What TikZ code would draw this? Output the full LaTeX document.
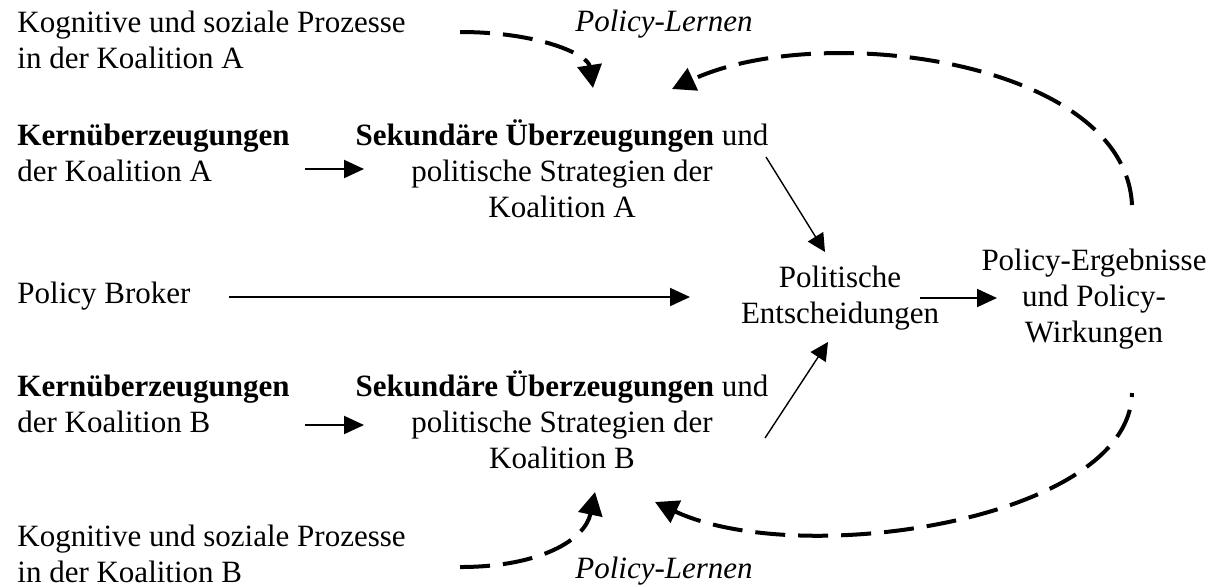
\documentclass[tikz,border=0pt]{standalone}
\usepackage{fontspec}
\setmainfont{Liberation Serif}
\usepackage{tikz}
\usetikzlibrary{calc}
\usetikzlibrary{arrows.meta}
\tikzstyle{every node}=[font=\fontsize{15.5}{18}\selectfont,inner sep=0pt]
\tikzset{
    pfeil/.style={line width=1pt,-{Triangle[length=10pt,width=9pt]}},
    schraeg/.style={line width=0.7pt,-{Triangle[length=9pt,width=9pt]}},
    lernpfeil/.style={line width=2pt,line cap=butt,dash pattern=on 15pt off 6.5pt,-{Triangle[length=11.5pt,width=12pt]}}
}

\begin{document}
\begin{tikzpicture}[line join=round,x=0.5pt,y=-0.5pt]
    \useasboundingbox (0,0) rectangle (1214,586);
    % Koalition A (base = letzte Zeile)
    \draw (17,68) node[anchor=base west,align=left] (kogA) {Kognitive und soziale Prozesse\\in der Koalition A};
    \draw (664,31) node[anchor=base] (lernA) {\textit{Policy-Lernen}};
    \draw (17,181) node[anchor=base west,align=left] (kernA) {\textbf{Kernüberzeugungen}\\der Koalition A};
    \draw (562,217) node[anchor=base,align=center] (sekA) {\textbf{Sekundäre Überzeugungen} und\\politische Strategien der\\Koalition A};
    % Mitte
    \draw (17,303) node[anchor=base west] (broker) {Policy Broker};
    \draw (840,323) node[anchor=base,align=center] (pol) {Politische\\Entscheidungen};
    \draw (1094,342) node[anchor=base,align=center] (erg) {Policy-Ergebnisse\\und Policy-\\Wirkungen};
    % Koalition B
    \draw (17,432) node[anchor=base west,align=left] (kernB) {\textbf{Kernüberzeugungen}\\der Koalition B};
    \draw (562,468) node[anchor=base,align=center] (sekB) {\textbf{Sekundäre Überzeugungen} und\\politische Strategien der\\Koalition B};
    \draw (17,582) node[anchor=base west,align=left] (kogB) {Kognitive und soziale Prozesse\\in der Koalition B};
    \draw (664,578) node[anchor=base] (lernB) {\textit{Policy-Lernen}};

    \coordinate (kernA-aus) at (305,169);
    \coordinate (sekA-ein) at (364,169);
    \coordinate (sekA-aus) at (766,157);
    \coordinate (polA-ein) at (825,252);
    \coordinate (broker-aus) at (229,297);
    \coordinate (pol-ein) at (690,297);
    \coordinate (pol-aus) at (920,298);
    \coordinate (erg-ein) at (997,298);
    \coordinate (kernB-aus) at (305,425);
    \coordinate (sekB-ein) at (364,425);
    \coordinate (sekB-aus) at (765,438);
    \coordinate (polB-ein) at (828,342);
    \coordinate (kogA-aus) at (460,32);
    \coordinate (lernA-ein) at (593,88);
    \coordinate (ergA-aus) at (1132,205);
    \coordinate (lernA-ruck) at (672,89);
    \coordinate (kogB-aus) at (460,567);
    \coordinate (lernB-ein) at (595,492);
    \coordinate (ergB-aus) at (1132,393);
    \coordinate (lernB-ruck) at (655,502);

    \draw [pfeil] (kernA-aus) -- (sekA-ein);
    \draw [pfeil] (kernB-aus) -- (sekB-ein);
    \draw [pfeil] (broker-aus) -- (pol-ein);
    \draw [pfeil] (pol-aus) -- (erg-ein);
    \draw [schraeg] (sekA-aus) -- (polA-ein);
    \draw [schraeg] (sekB-aus) -- (polB-ein);

    \draw [lernpfeil] (kogA-aus) .. controls (540,32) and (588,55) .. (lernA-ein);
    \draw [lernpfeil] (kogB-aus) .. controls (540,567) and (585,540) .. (lernB-ein);
    \draw [lernpfeil] (ergA-aus) .. controls (1125,60) and (820,20) .. (lernA-ruck);
    \draw [lernpfeil,dash phase=13pt] (ergB-aus) .. controls (1130,520) and (800,570) .. (lernB-ruck);
\end{tikzpicture}
\end{document}
